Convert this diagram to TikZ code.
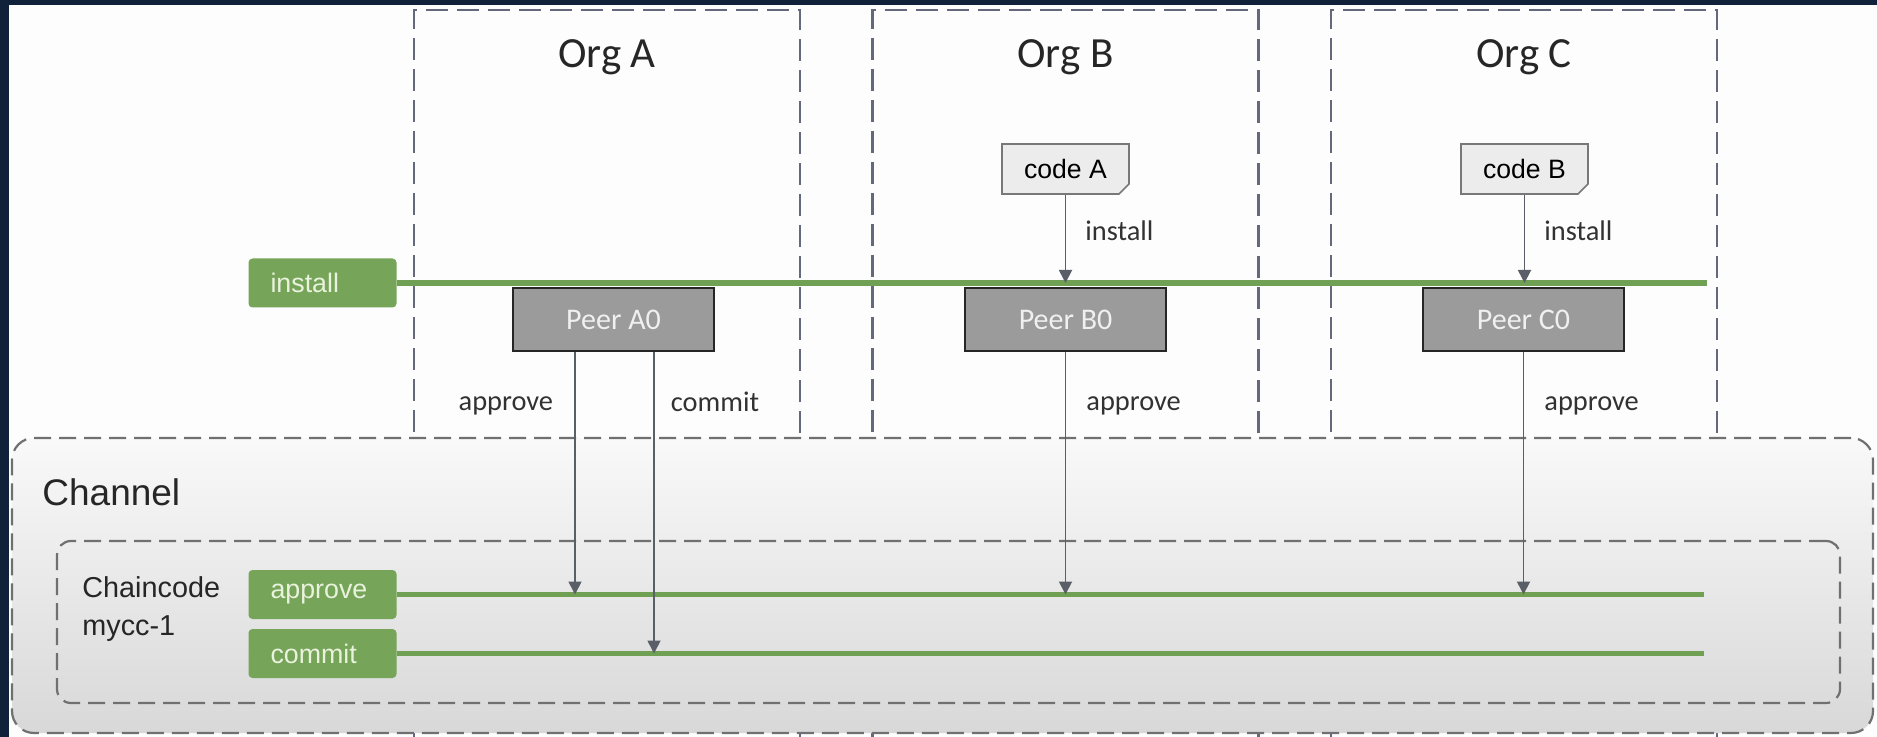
\documentclass[tikz,border=0pt]{standalone}
\usepackage{xcolor}
\usepackage{fontspec}
\setmainfont{Liberation Sans}
\newfontfamily\calibri{Carlito}
\usepackage{tikz}
\usetikzlibrary{arrows.meta, positioning, shapes.misc}
\definecolor{FrameNavy}{RGB}{16, 34, 58}
\definecolor{PanelWhite}{RGB}{253, 253, 253}
\definecolor{OrgDash}{RGB}{100, 104, 124}
\definecolor{ChanDash}{RGB}{112, 112, 112}
\definecolor{ChanTop}{RGB}{249, 249, 249}
\definecolor{ChanBottom}{RGB}{216, 216, 216}
\definecolor{TagGreen}{RGB}{118, 164, 88}
\definecolor{TagText}{RGB}{232, 242, 220}
\definecolor{LineGreen}{RGB}{112, 160, 84}
\definecolor{PeerFill}{RGB}{155, 155, 155}
\definecolor{PeerEdge}{RGB}{38, 38, 38}
\definecolor{PeerText}{RGB}{240, 240, 240}
\definecolor{CodeFill}{RGB}{236, 236, 236}
\definecolor{CodeEdge}{RGB}{120, 120, 120}
\definecolor{FlowGray}{RGB}{90, 94, 102}
\definecolor{LabelDark}{RGB}{50, 50, 50}

\begin{document}
\begin{tikzpicture}[
    x=0.5pt, y=-0.5pt,
    orgbox/.style={draw=OrgDash, line width=1.2pt, dash pattern=on 11pt off 4.5pt,
      minimum width=193pt, minimum height=375pt, inner sep=0pt},
    orgtitle/.style={anchor=base, inner sep=0pt, font=\calibri\fontsize{21.5}{24}\selectfont, text=black!85},
    chanbox/.style={draw=ChanDash, line width=1.1pt, dash pattern=on 8.5pt off 4pt,
      rounded corners=11pt, top color=ChanTop, bottom color=ChanBottom, inner sep=0pt},
    ccbox/.style={draw=ChanDash, line width=1.1pt, dash pattern=on 8.5pt off 4pt,
      rounded corners=7pt, inner sep=0pt},
    tag/.style={fill=TagGreen, rounded corners=2pt, minimum height=24.5pt, text width=52pt,
      inner xsep=11pt, inner ysep=0pt, align=left, text=TagText,
      font=\fontsize{13.4}{15}\selectfont},
    greenline/.style={draw=LineGreen, line width=2.6pt},
    peer/.style={draw=PeerEdge, line width=1.3pt, fill=PeerFill, minimum width=100.5pt,
      minimum height=31.5pt, inner sep=0pt, text=PeerText, font=\calibri\fontsize{15}{17}\selectfont},
    codebox/.style={chamfered rectangle, chamfered rectangle corners=south east,
      chamfered rectangle sep=2.5pt, draw=CodeEdge, line width=0.8pt, fill=CodeFill,
      minimum width=63.5pt, minimum height=25pt, inner sep=0pt,
      font=\fontsize{13.3}{15}\selectfont},
    flow/.style={draw=FlowGray, line width=0.9pt, -{Triangle[length=6.5pt, width=6.5pt]}},
    steplabel/.style={inner sep=0pt, text height=1.6ex, text depth=0.4ex, text=LabelDark,
      font=\calibri\fontsize{14.2}{16}\selectfont},
    plainlabel/.style={anchor=base west, inner sep=0pt, text=black!85}
  ]
    \useasboundingbox (0,0) rectangle (1877,737);
    \fill[FrameNavy] (0,0) rectangle (1877,737);
    \fill[PanelWhite] (9,5) rectangle (1877,737);

    % organisations, running down behind the channel
    \begin{scope}
      \clip (9,5) rectangle (1877,737);
      \node[orgbox] (orgA) at (607,385) {};
      \node[orgbox] (orgB) at (1065.5,385) {};
      \node[orgbox] (orgC) at (1524,385) {};
    \end{scope}
    \node[orgtitle] (titleA) at (607,68) {Org A};
    \node[orgtitle] (titleB) at (1065.5,68) {Org B};
    \node[orgtitle] (titleC) at (1524,68) {Org C};

    % channel and chaincode
    \node[chanbox, minimum width=930.5pt, minimum height=147.5pt] (channel) at (942.5,585.5) {};
    \node[plainlabel, font=\fontsize{18.5}{21}\selectfont] (chanlabel) at (42,505) {Channel};
    \node[ccbox, minimum width=891.5pt, minimum height=81pt] (ccbox) at (948.5,622) {};
    \node[plainlabel, font=\fontsize{14.4}{17}\selectfont] (ccname) at (82,597) {Chaincode};
    \node[plainlabel, font=\fontsize{14.4}{17}\selectfont] (ccver) at (82,635) {mycc-1};

    % lifecycle lanes
    \node[tag] (installtag) at (322.5,283) {install};
    \node[tag] (approvetag) at (322.5,594.5) {approve};
    \node[tag] (committag) at (322.5,653.5) {commit};
    \coordinate (installend) at (1707,283);
    \coordinate (approveend) at (1704,594.5);
    \coordinate (commitend) at (1704,653.5);
    \draw[greenline] (installtag.east) -- (installend);
    \draw[greenline] (approvetag.east) -- (approveend);
    \draw[greenline] (committag.east) -- (commitend);

    % peers and packages
    \node[peer] (peerA) at (613.5,319.5) {Peer A0};
    \node[peer] (peerB) at (1065.5,319.5) {Peer B0};
    \node[peer] (peerC) at (1523.5,319.5) {Peer C0};
    \node[codebox] (codeA) at (1065.5,169) {code A};
    \node[codebox] (codeB) at (1524.5,169) {code B};

    \coordinate (insB) at (1065.5,283);
    \coordinate (insC) at (1524.5,283);
    \coordinate (apA) at (575,594.5);
    \coordinate (cmA) at (654,653.5);
    \coordinate (apB) at (1065.5,594.5);
    \coordinate (apC) at (1523.5,594.5);

    \draw[flow] (codeA) -- node[steplabel, pos=0.45, right=9.5pt] {install} (insB);
    \draw[flow] (codeB) -- node[steplabel, pos=0.45, right=9.5pt] {install} (insC);
    \draw[flow] (peerA.south -| apA) -- node[steplabel, pos=0.215, left=10.5pt] {approve} (apA);
    \draw[flow] (peerA.south -| cmA) -- node[steplabel, pos=0.175, right=8pt] {commit} (cmA);
    \draw[flow] (peerB) -- node[steplabel, pos=0.215, right=10pt] {approve} (apB);
    \draw[flow] (peerC) -- node[steplabel, pos=0.215, right=10pt] {approve} (apC);
  \end{tikzpicture}
\end{document}
